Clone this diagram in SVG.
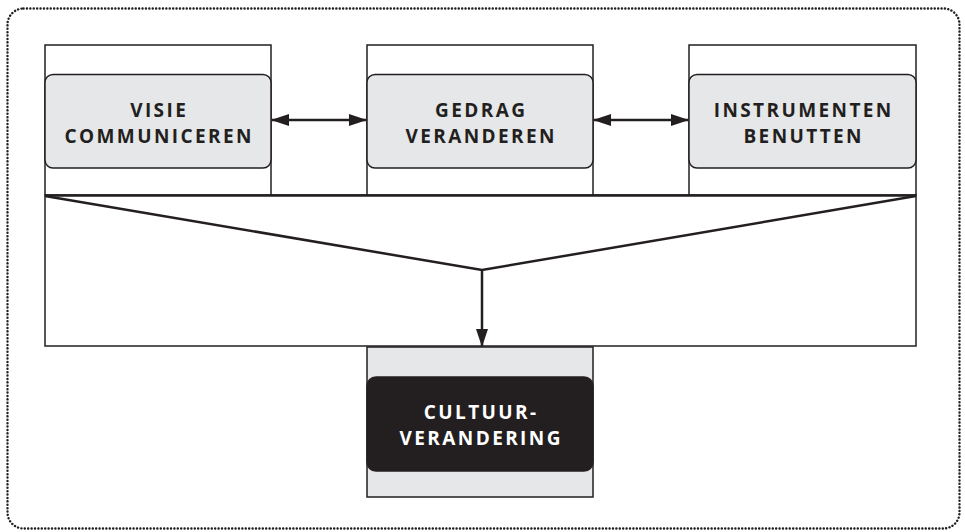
<svg xmlns="http://www.w3.org/2000/svg" width="965" height="532" viewBox="0 0 965 532">
<defs>
<style>
.frame{fill:#fff;stroke:#231f20;stroke-width:1.5}
.inner{fill:#e6e7e8;stroke:#231f20;stroke-width:1.5}
.dark{fill:#231f20;stroke:#231f20;stroke-width:1.5}
.lbl{font-family:"Open Sans",sans-serif;font-weight:700;font-size:19px;letter-spacing:2.4px;text-anchor:middle;fill:#231f20}
.lblw{fill:#fff}
.con{stroke:#231f20;stroke-width:2.5;fill:none}
</style>
<marker id="ah" viewBox="0 0 18 12" refX="17" refY="6" markerWidth="18" markerHeight="12" markerUnits="userSpaceOnUse" orient="auto-start-reverse">
<path d="M0,0 L18,6 L0,12 Z" fill="#231f20"/>
</marker>
</defs>
<rect x="7.5" y="8.5" width="952" height="520" rx="16" fill="none" stroke="#231f20" stroke-width="2.4" stroke-dasharray="0.1 3.3" stroke-linecap="round"/>
<g id="node-base">
<rect class="frame" x="45" y="195" width="871" height="151"/>
</g>
<g id="node-visie">
<rect class="frame" x="45" y="45" width="226" height="150"/>
<rect class="inner" x="45" y="74.5" width="226" height="93.5" rx="8"/>
<text class="lbl" x="159.2" y="117">VISIE</text>
<text class="lbl" x="159.2" y="143">COMMUNICEREN</text>
</g>
<g id="node-gedrag">
<rect class="frame" x="367" y="45" width="226" height="150"/>
<rect class="inner" x="367" y="74.5" width="226" height="93.5" rx="8"/>
<text class="lbl" x="481.2" y="117">GEDRAG</text>
<text class="lbl" x="481.2" y="143">VERANDEREN</text>
</g>
<g id="node-instrumenten">
<rect class="frame" x="689" y="45" width="227" height="150"/>
<rect class="inner" x="689" y="74.5" width="227" height="93.5" rx="8"/>
<text class="lbl" x="803.7" y="117">INSTRUMENTEN</text>
<text class="lbl" x="803.7" y="143">BENUTTEN</text>
</g>
<g id="node-cultuur">
<rect class="inner" x="367" y="347" width="226" height="150"/>
<rect class="dark" x="367" y="377" width="226" height="94" rx="9"/>
<text class="lbl lblw" x="481.2" y="419">CULTUUR-</text>
<text class="lbl lblw" x="481.2" y="445">VERANDERING</text>
</g>
<g id="connectors">
<line x1="45" y1="195.5" x2="916" y2="195.5" stroke="#231f20" stroke-width="2.5"/>
<polyline class="con" points="45,196 482,270 916,196"/>
<line class="con" x1="482" y1="270" x2="482" y2="346" marker-end="url(#ah)"/>
<line class="con" x1="272" y1="120" x2="366" y2="120" marker-start="url(#ah)" marker-end="url(#ah)"/>
<line class="con" x1="594" y1="120" x2="688" y2="120" marker-start="url(#ah)" marker-end="url(#ah)"/>
</g>
</svg>
